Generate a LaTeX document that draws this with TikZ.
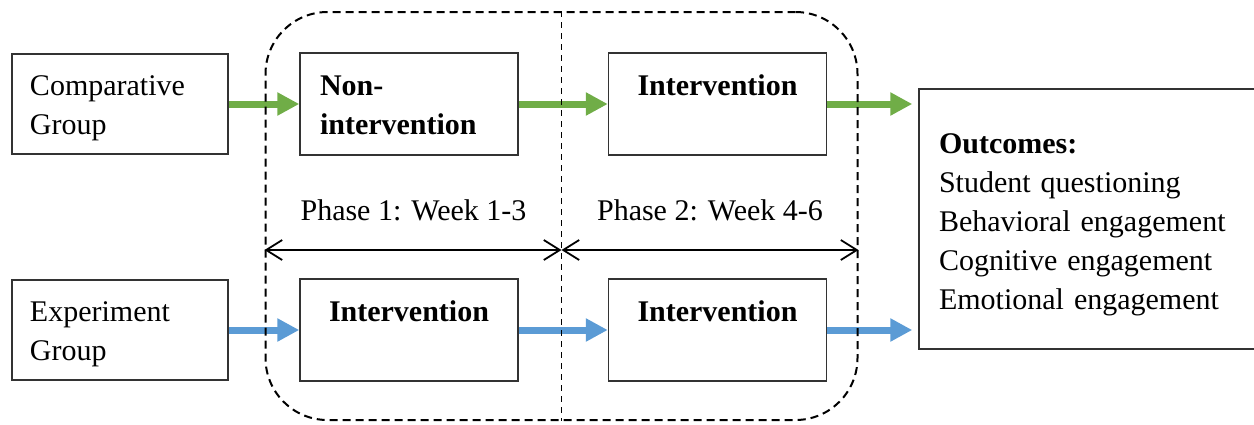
\documentclass[tikz,border=0pt]{standalone}
\usepackage{fontspec}
\setmainfont{Liberation Serif}
\usepackage{tikz}
\usetikzlibrary{arrows.meta}
\definecolor{grpgreen}{HTML}{70AD47}
\definecolor{grpblue}{HTML}{5B9BD5}

\begin{document}
\begin{tikzpicture}[x=0.5pt,y=-0.5pt,font=\fontsize{15}{19.6}\selectfont,
  groupbox/.style={rectangle,draw=black!80,line width=0.75pt,minimum height=50pt,inner xsep=9pt,text width=90pt,text height=11pt,text depth=20pt,align=left},
  stagebox/.style={rectangle,draw=black!80,line width=0.75pt,minimum height=51pt,inner xsep=10pt,text width=89pt,text height=11pt,text depth=20pt,font=\fontsize{15}{19.6}\selectfont\bfseries},
  outbox/.style={rectangle,draw=black!80,line width=0.75pt,minimum height=130pt,inner xsep=10pt,text width=150pt,text height=11pt,text depth=77pt,align=left},
  frame/.style={rectangle,draw=black,line width=1pt,dash pattern=on 4pt off 2.5pt,rounded corners=31pt,minimum width=296pt,minimum height=204pt},
  divider/.style={draw=black,line width=0.7pt,dash pattern=on 3pt off 2.5pt},
  flow/.style={line width=3.5pt,-{Triangle[length=11pt,width=11pt]}},
  phasespan/.style={line width=0.9pt,{Straight Barb[length=8pt,width=10pt]}-{Straight Barb[length=8pt,width=10pt]}}]
\useasboundingbox (0,0) rectangle (1254,424);
% groups
\node[groupbox] (comp) at (120,104) {Comparative\\Group};
\node[groupbox] (exp) at (120,330) {Experiment\\Group};
% phases
\node[stagebox,align=left] (nonint) at (409,104) {Non-\\intervention};
\node[stagebox,align=center] (int1) at (717.5,104) {Intervention};
\node[stagebox,align=center] (int2) at (409,330) {Intervention};
\node[stagebox,align=center] (int3) at (717.5,330) {Intervention};
% outcomes
\node[outbox] (out) at (1089,219) {\textbf{Outcomes:}\\Student questioning\\Behavioral engagement\\Cognitive engagement\\Emotional engagement};
\draw[flow,grpgreen] (comp) -- (nonint);
\draw[flow,grpgreen] (nonint) -- (int1);
\draw[flow,grpgreen,shorten >=3pt] (int1) -- (int1 -| out.west);
\draw[flow,grpblue] (exp) -- (int2);
\draw[flow,grpblue] (int2) -- (int3);
\draw[flow,grpblue,shorten >=3pt] (int3) -- (int3 -| out.west);
% study frame
\node[frame] (frame) at (561.5,216) {};
\draw[divider] (frame.north) -- (frame.south);
\coordinate (mid) at (561.5,250);
\draw[phasespan] (frame.west |- mid) -- (mid);
\draw[phasespan] (mid) -- (frame.east |- mid);
\node (ph1) at (413.5,210) {Phase 1: Week 1-3};
\node (ph2) at (710,210) {Phase 2: Week 4-6};
\end{tikzpicture}
\end{document}
